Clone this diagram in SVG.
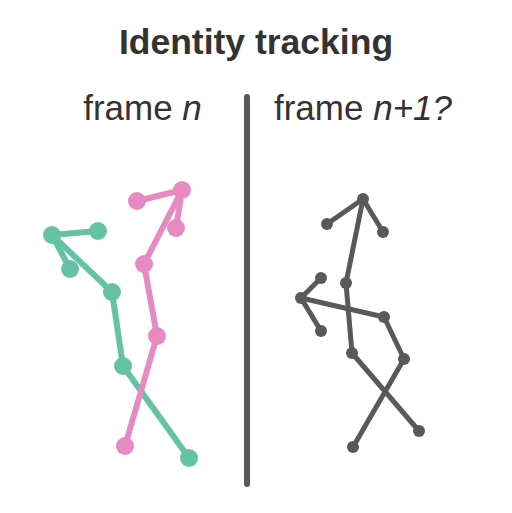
<svg xmlns="http://www.w3.org/2000/svg" width="512" height="513" viewBox="0 0 512 513">
<style>
.t{font-family:"Liberation Sans",Arial,sans-serif;fill:#333333}
.g line{stroke:#66c2a5;stroke-width:6;stroke-linecap:round}
.g circle{fill:#66c2a5}
.p line{stroke:#e78ac3;stroke-width:6;stroke-linecap:round}
.p circle{fill:#e78ac3}
.k line{stroke:#595959;stroke-width:5;stroke-linecap:round}
.k circle{fill:#595959}
</style>
<rect width="512" height="513" fill="#ffffff"/>
<text class="t" x="256" y="54" text-anchor="middle" font-size="35.5" font-weight="bold">Identity tracking</text>
<text class="t" x="142.5" y="119.5" text-anchor="middle" font-size="35">frame <tspan font-style="italic">n</tspan></text>
<text class="t" x="363" y="119.5" text-anchor="middle" font-size="35">frame <tspan font-style="italic">n+1?</tspan></text>
<line x1="247" y1="97" x2="247" y2="484" stroke="#595959" stroke-width="6" stroke-linecap="round"/>
<g id="connectors">
<g class="g">
<line x1="98" y1="231" x2="52" y2="235"/>
<line x1="52" y1="235" x2="70" y2="269"/>
<line x1="52" y1="235" x2="112" y2="292"/>
<line x1="112" y1="292" x2="123" y2="366"/>
<line x1="123" y1="366" x2="189" y2="458"/>
</g>
<g class="p">
<line x1="137" y1="201" x2="182" y2="190"/>
<line x1="182" y1="190" x2="176" y2="228"/>
<line x1="182" y1="190" x2="144" y2="264"/>
<line x1="144" y1="264" x2="157" y2="336"/>
<line x1="157" y1="336" x2="125" y2="446"/>
</g>
<g class="k">
<line x1="327" y1="224" x2="363" y2="199"/>
<line x1="363" y1="199" x2="383" y2="232"/>
<line x1="363" y1="199" x2="346" y2="283"/>
<line x1="346" y1="283" x2="352" y2="353"/>
<line x1="352" y1="353" x2="419" y2="431"/>
<line x1="321" y1="278" x2="301" y2="298"/>
<line x1="301" y1="298" x2="321" y2="331"/>
<line x1="301" y1="298" x2="384" y2="317"/>
<line x1="384" y1="317" x2="404" y2="359"/>
<line x1="404" y1="359" x2="353" y2="447"/>
</g>
</g>
<g id="green-nodes" class="g">
<circle id="g1" cx="52" cy="235" r="9"/>
<circle id="g2" cx="98" cy="231" r="9"/>
<circle id="g3" cx="70" cy="269" r="9"/>
<circle id="g4" cx="112" cy="292" r="9"/>
<circle id="g5" cx="123" cy="366" r="9"/>
<circle id="g6" cx="189" cy="458" r="9"/>
</g>
<g id="pink-nodes" class="p">
<circle id="p1" cx="137" cy="201" r="9"/>
<circle id="p2" cx="182" cy="190" r="9"/>
<circle id="p3" cx="176" cy="228" r="9"/>
<circle id="p4" cx="144" cy="264" r="9"/>
<circle id="p5" cx="157" cy="336" r="9"/>
<circle id="p6" cx="125" cy="446" r="9"/>
</g>
<g id="gray-nodes" class="k">
<circle id="k1" cx="363" cy="199" r="6"/>
<circle id="k2" cx="327" cy="224" r="6"/>
<circle id="k3" cx="383" cy="232" r="6"/>
<circle id="k4" cx="346" cy="283" r="6"/>
<circle id="k5" cx="321" cy="278" r="6"/>
<circle id="k6" cx="301" cy="298" r="6"/>
<circle id="k7" cx="321" cy="331" r="6"/>
<circle id="k8" cx="384" cy="317" r="6"/>
<circle id="k9" cx="352" cy="353" r="6"/>
<circle id="k10" cx="404" cy="359" r="6"/>
<circle id="k11" cx="419" cy="431" r="6"/>
<circle id="k12" cx="353" cy="447" r="6"/>
</g>
</svg>
